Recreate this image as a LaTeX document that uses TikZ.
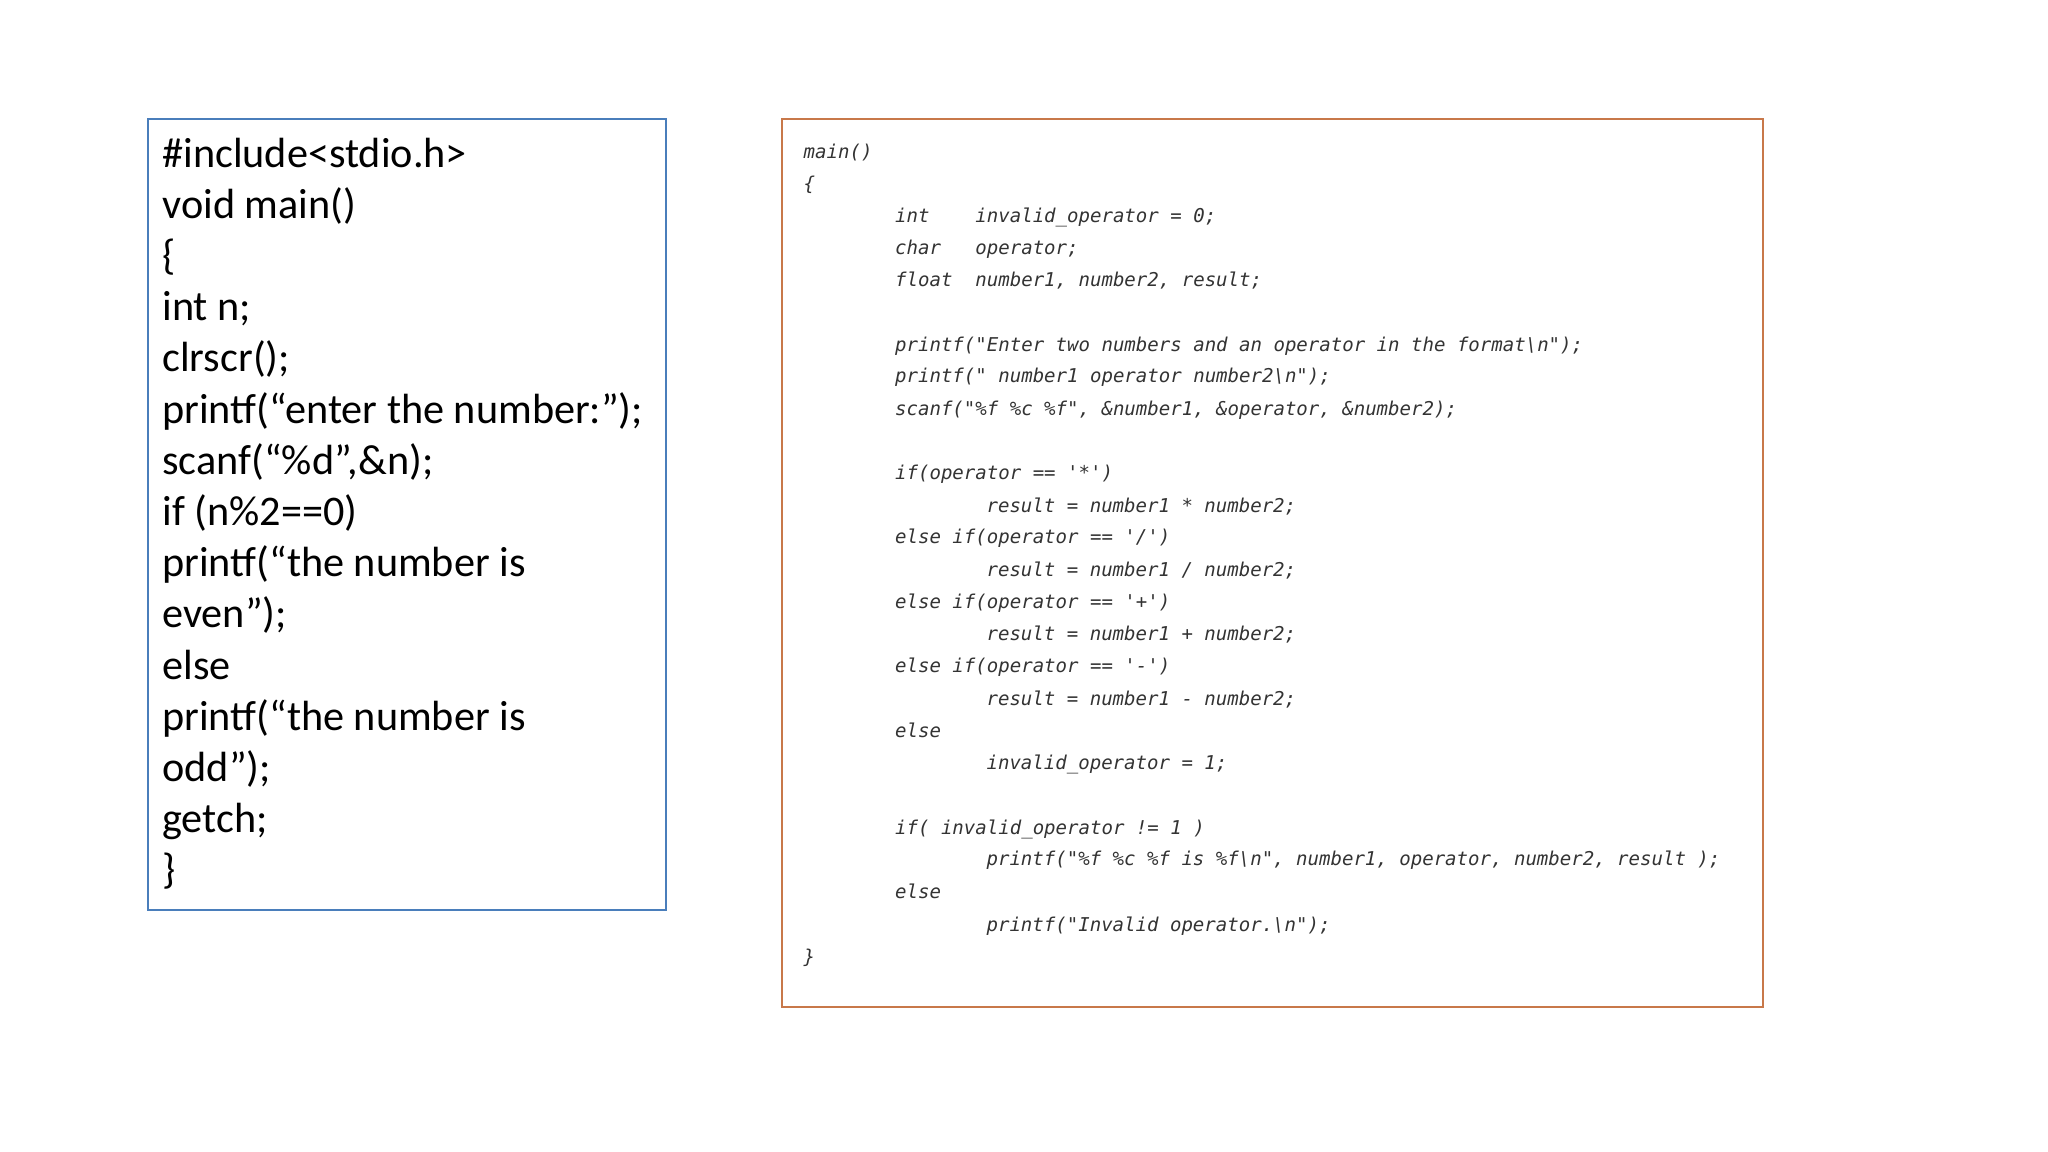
\documentclass[tikz,border=0pt]{standalone}
\usepackage{fontspec}
\setmainfont{Carlito}
\newfontfamily\codefont{DejaVu Sans Mono}
\definecolor{lbox}{HTML}{4A7EBB}
\definecolor{rbox}{HTML}{C8784A}
\tikzset{
  lt/.style={anchor=base west,inner sep=0pt,font=\fontsize{18.4}{18.4}\selectfont},
  ct/.style={anchor=base west,inner sep=0pt,font=\codefont\itshape\fontsize{8.3}{8.3}\selectfont,text=black!80},
}
\begin{document}
\begin{tikzpicture}[x=0.02cm,y=-0.02cm]
\useasboundingbox (0,0) rectangle (1568,882);
\draw[draw=lbox,line width=0.8pt] (113,91) rectangle (510,697);
\draw[draw=rbox,line width=0.8pt] (599,91) rectangle (1350,771);
\foreach \t [count=\i from 0] in {
 {\#include<stdio.h>},{void main()},{\{},{int n;},{clrscr();},
 {printf(“enter the number:”);},{scanf(“\%d”,\&n);},{if (n\%2==0)},
 {printf(“the number is},{even”);},{else},{printf(“the number is},
 {odd”);},{getch;},{\}}}
 \node[lt] (l\i) at (124,{128+39.2*\i}) {\t};
\node[ct] (c0) at (615,121) {main()};
\node[ct] (c1) at (615,146) {\{};
\node[ct] (c2) at (685,170) {int\ \ \ \ invalid\_operator = 0;};
\node[ct] (c3) at (685,195) {char\ \ \ operator;};
\node[ct] (c4) at (685,219) {float\ \ number1, number2, result;};
\node[ct] (c5) at (685,269) {printf("Enter two numbers and an operator in the format\textbackslash n");};
\node[ct] (c6) at (685,293) {printf(" number1 operator number2\textbackslash n");};
\node[ct] (c7) at (685,318) {scanf("\%f \%c \%f", \&number1, \&operator, \&number2);};
\node[ct] (c8) at (685,367) {if(operator == '*')};
\node[ct] (c9) at (755,392) {result = number1 * number2;};
\node[ct] (c10) at (685,416) {else if(operator == '/')};
\node[ct] (c11) at (755,441) {result = number1 / number2;};
\node[ct] (c12) at (685,466) {else if(operator == '+')};
\node[ct] (c13) at (755,490) {result = number1 + number2;};
\node[ct] (c14) at (685,515) {else if(operator == '-')};
\node[ct] (c15) at (755,540) {result = number1 - number2;};
\node[ct] (c16) at (685,565) {else};
\node[ct] (c17) at (755,589) {invalid\_operator = 1;};
\node[ct] (c18) at (685,639) {if( invalid\_operator != 1 )};
\node[ct] (c19) at (755,663) {printf("\%f \%c \%f is \%f\textbackslash n", number1, operator, number2, result );};
\node[ct] (c20) at (685,688) {else};
\node[ct] (c21) at (755,713) {printf("Invalid operator.\textbackslash n");};
\node[ct] (c22) at (615,738) {\}};
\end{tikzpicture}
\end{document}
